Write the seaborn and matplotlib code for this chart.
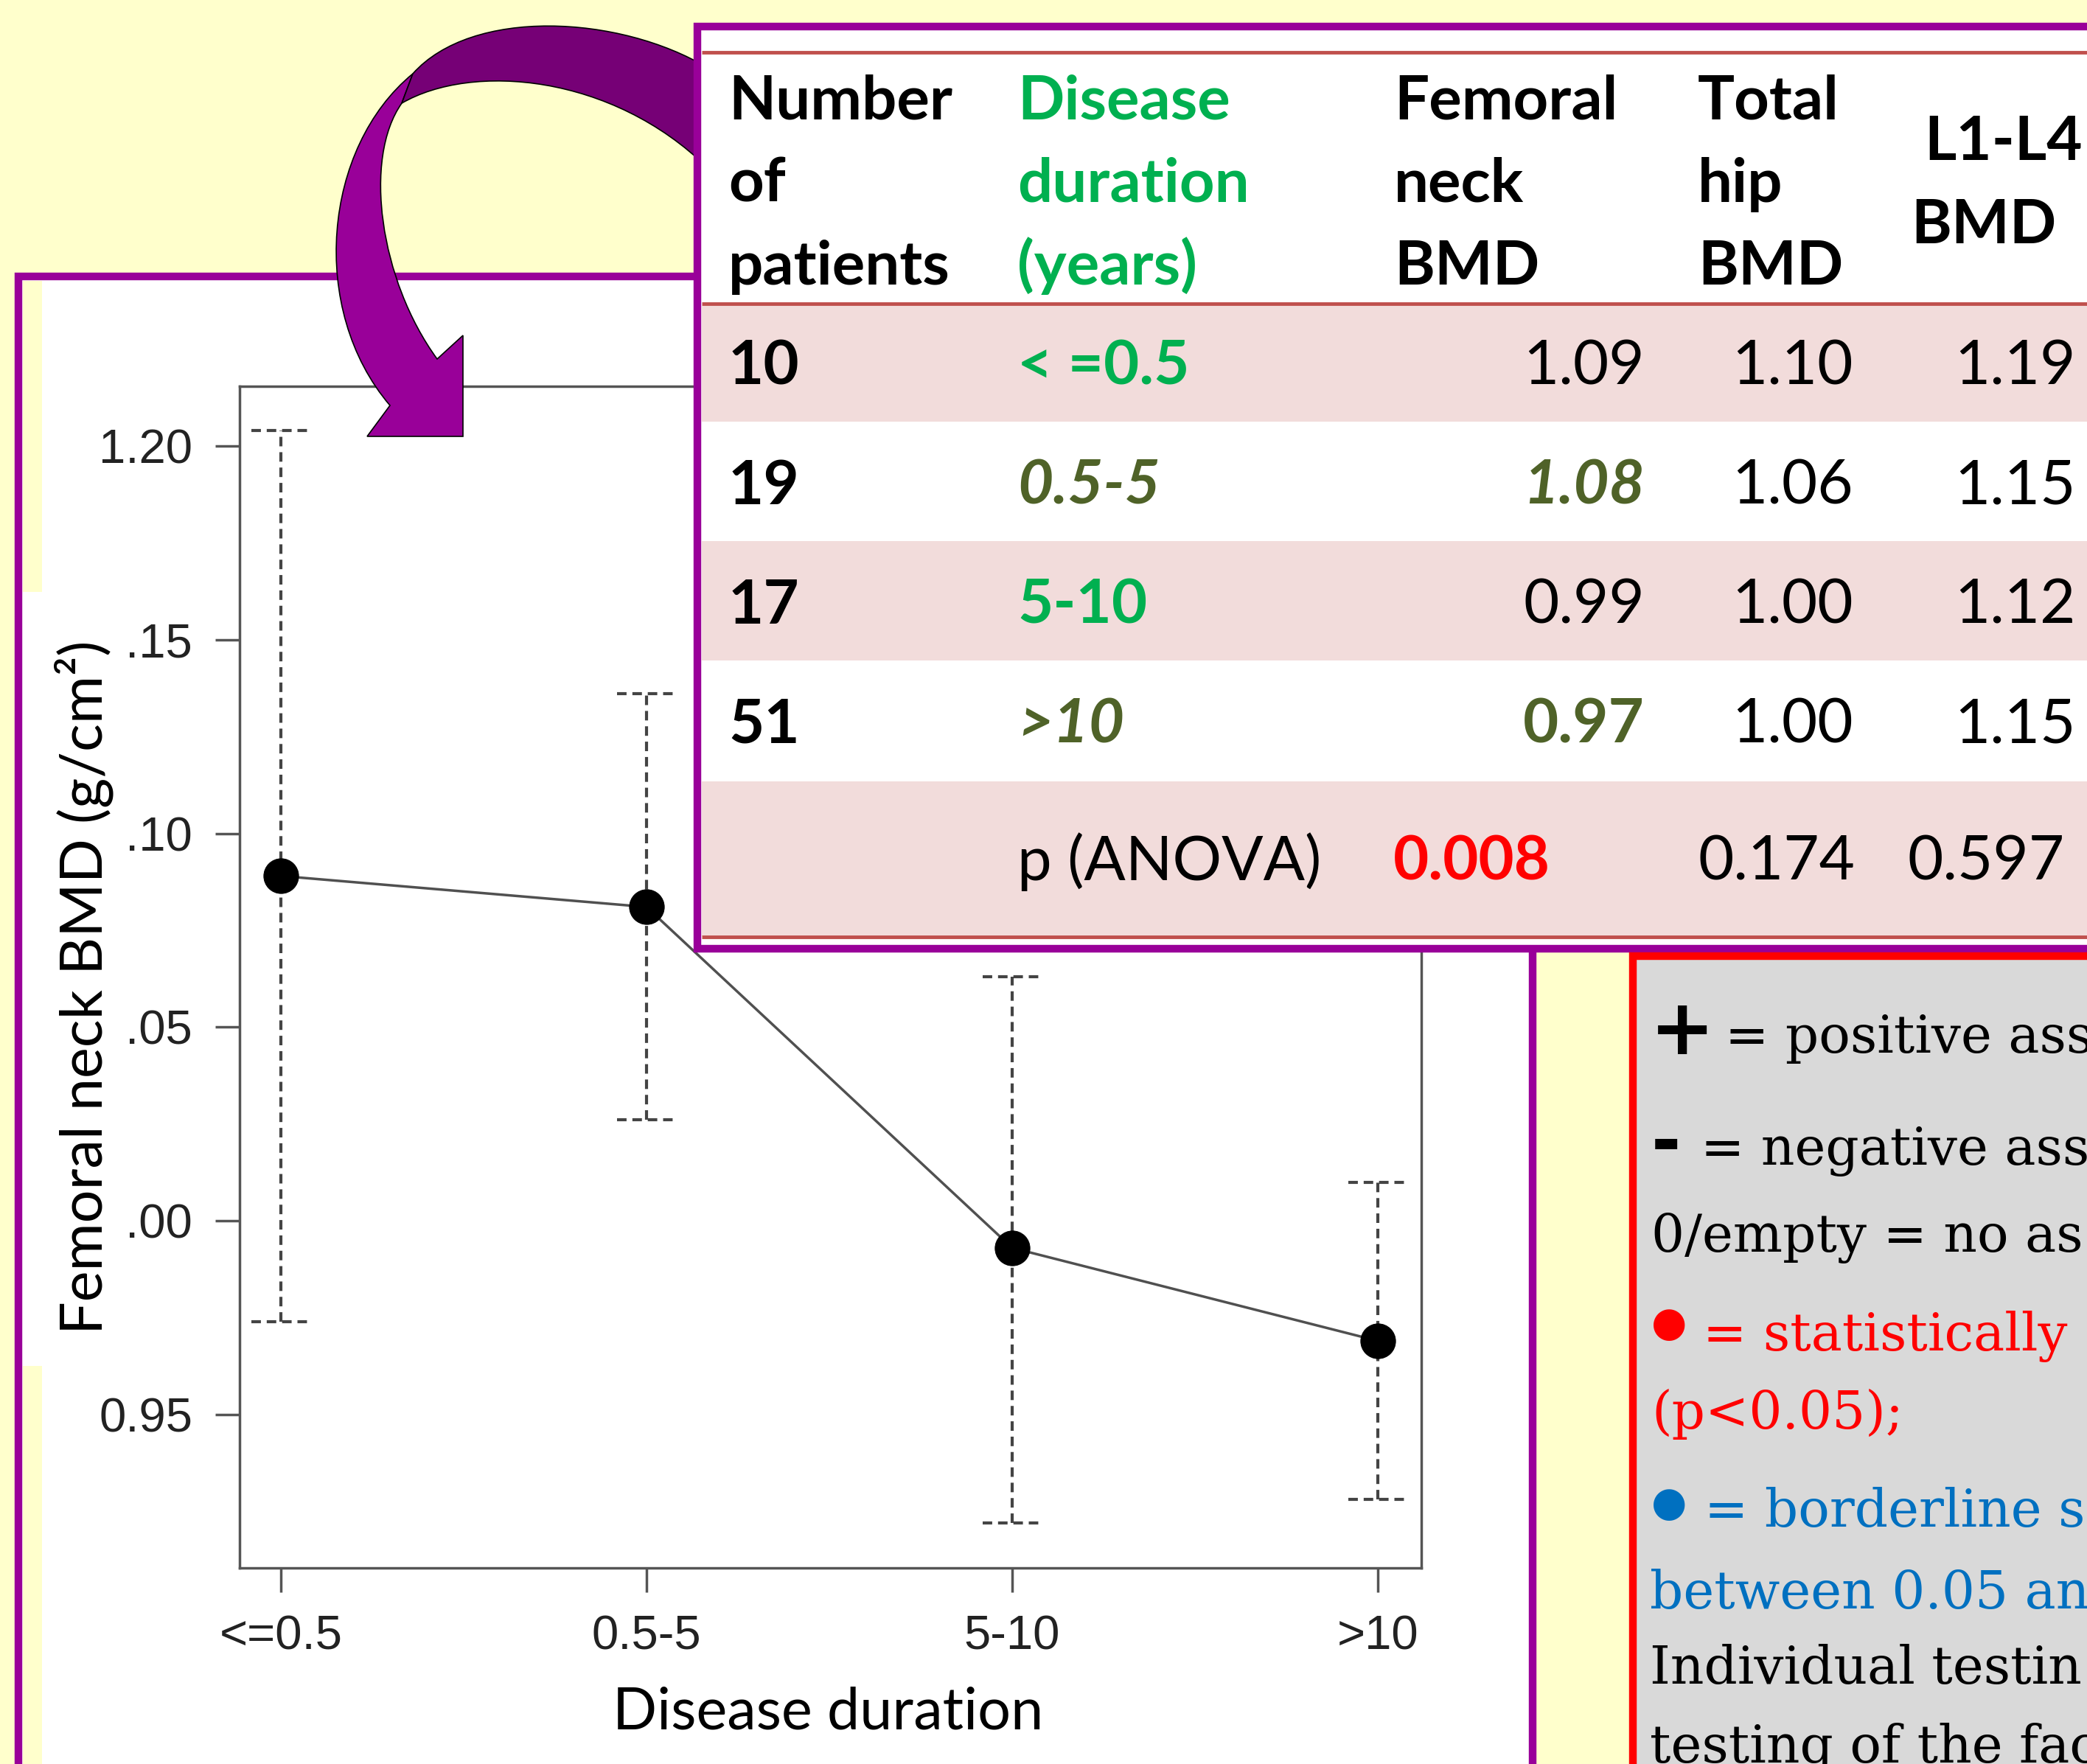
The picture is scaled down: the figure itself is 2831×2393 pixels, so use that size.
import numpy as np
import matplotlib
matplotlib.use("Agg")
import matplotlib.pyplot as plt
import seaborn as sns
from matplotlib.patches import Rectangle, PathPatch
from matplotlib.path import Path

# ---------------- data ----------------
categories = ["<=0.5", "0.5-5", "5-10", ">10"]
bmd_mean = [1.089, 1.081, 0.993, 0.969]
ci_low = [0.974, 1.026, 0.922, 0.928]
ci_high = [1.204, 1.136, 1.063, 1.010]
y_ticks = [0.95, 1.00, 1.05, 1.10, 1.15, 1.20]
y_ticklabels = ["0.95", ".00", ".05", ".10", ".15", "1.20"]

table_n = ["10", "19", "17", "51"]
table_duration = ["< =0.5", "0.5-5", "5-10", ">10"]
table_femoral = ["1.09", "1.08", "0.99", "0.97"]
table_hip = ["1.10", "1.06", "1.00", "1.00"]
table_l1l4 = ["1.19", "1.15", "1.12", "1.15"]
p_anova = ["0.008", "0.174", "0.597"]

legend_lines = ["= positive asso", "= negative asso", "0/empty = no as",
                "= statistically s", "(p<0.05);", "= borderline si",
                "between 0.05 an", "Individual testin", "testing of the fac"]

# ---------------- style ----------------
sns.set_style("white")
plt.rcParams["font.family"] = ["Lato", "DejaVu Sans"]

YELLOW = "#FFFFCC"
PURPLE = "#990099"
DARKPURPLE = "#760076"
PINK = "#F2DCDB"
REDLINE = "#C0504D"
GREEN = "#00B050"
OLIVE = "#4F6228"

W, H = 2831, 2393
fig = plt.figure(figsize=(W / 100, H / 100), dpi=100)
fig.patch.set_facecolor(YELLOW)

# background layer (pixel coordinates, y down)
bg = fig.add_axes([0, 0, 1, 1], zorder=0)
bg.set_xlim(0, W)
bg.set_ylim(H, 0)
bg.axis("off")
bg.add_patch(Rectangle((25, 375), 2079 - 25, 2600, fc="white", ec=PURPLE, lw=7.5))
bg.add_patch(Rectangle((31, 381), 26, 803 - 381, fc=YELLOW, ec="none"))
bg.add_patch(Rectangle((31, 1853), 26, 700, fc=YELLOW, ec="none"))

# ---------------- main plot ----------------
ax = fig.add_axes([325 / W, 1 - 2127 / H, 1603 / W, 1603 / H], zorder=1)
ax.set_facecolor("white")
xpos = np.arange(len(categories))
cap = 0.081
dash = (0, (3.1, 1.9))
ax.vlines(xpos, ci_low, ci_high, colors="#444444", linestyles=dash, lw=3, zorder=2)
ax.hlines(ci_high, xpos - cap, xpos + cap, colors="#444444", linestyles=dash, lw=3, zorder=2)
ax.hlines(ci_low, xpos - cap, xpos + cap, colors="#444444", linestyles=dash, lw=3, zorder=2)
sns.lineplot(x=categories, y=bmd_mean, ax=ax, color="#505050", lw=2.5, marker="o",
             markersize=34, markerfacecolor="black", markeredgecolor="black", zorder=3)

ax.set_xlim(-0.113, 3.119)
ax.set_ylim(0.9104, 1.2154)
ax.set_xticks(xpos)
ax.set_xticklabels(categories)
ax.set_yticks(y_ticks)
ax.set_yticklabels(y_ticklabels)
for lab in ax.get_xticklabels() + ax.get_yticklabels():
    lab.set_fontfamily("Liberation Sans")
    lab.set_fontsize(47)
    lab.set_color("#222222")
ax.tick_params(axis="both", direction="out", length=24, width=2.5, color="#555555",
               bottom=True, left=True)
ax.tick_params(axis="y", pad=22)
ax.tick_params(axis="x", pad=22)
for s in ax.spines.values():
    s.set_color("#555555")
    s.set_linewidth(2.5)

ax.set_ylabel("Femoral neck BMD (g/cm²)", fontsize=57, color="black", ha="center", va="center")
ax.yaxis.set_label_coords((114 - 325) / 1603, (2127 - 1339) / 1603)
ax.set_xlabel("Disease duration", fontsize=57, color="black", va="center")
ax.xaxis.set_label_coords((1123 - 325) / 1603, (2127 - 2324) / 1603)

# ---------------- foreground layer ----------------
fg = fig.add_axes([0, 0, 1, 1], zorder=2)
fg.set_xlim(0, W)
fg.set_ylim(H, 0)
fg.axis("off")
fg.patch.set_alpha(0)

# curved arrow: light lower part then dark upper arc
light = Path([(560, 100), (438, 200), (418, 420), (529, 550),
              (498, 592), (628, 592), (628, 455), (593, 487),
              (515, 380), (492, 215), (545, 140), (560, 100)],
             [Path.MOVETO, Path.CURVE4, Path.CURVE4, Path.CURVE4,
              Path.LINETO, Path.LINETO, Path.LINETO, Path.LINETO,
              Path.CURVE4, Path.CURVE4, Path.CURVE4, Path.CLOSEPOLY])
fg.add_patch(PathPatch(light, fc=PURPLE, ec="black", lw=1.2))
dark = Path([(960, 92), (840, 20), (640, 10), (560, 100),
             (545, 140), (640, 85), (830, 100), (960, 228), (960, 92)],
            [Path.MOVETO, Path.CURVE4, Path.CURVE4, Path.CURVE4,
             Path.LINETO, Path.CURVE4, Path.CURVE4, Path.CURVE4, Path.CLOSEPOLY])
fg.add_patch(PathPatch(dark, fc=DARKPURPLE, ec="black", lw=1.2))

# table panel
fg.add_patch(Rectangle((946, 36), 2200, 1251, fc="white", ec=PURPLE, lw=7.5))
for (y0, h) in [(415, 157), (734, 162), (1060, 210)]:
    fg.add_patch(Rectangle((952, y0), 2000, h, fc=PINK, ec="none"))
for yl in [71, 412, 1271]:
    fg.plot([952, W], [yl, yl], color=REDLINE, lw=3.5, solid_capstyle="butt")

TS = 60
hdr = dict(fontsize=TS, fontweight="bold", va="baseline", ha="left")
for i, line in enumerate(["Number", "of", "patients"]):
    fg.text(988, 162 + 112 * i, line, color="black", **hdr)
for i, line in enumerate(["Disease", "duration", "(years)"]):
    fg.text(1380, 162 + 112 * i, line, color=GREEN, **hdr)
for i, line in enumerate(["Femoral", "neck", "BMD"]):
    fg.text(1891, 162 + 112 * i, line, color="black", **hdr)
for i, line in enumerate(["Total", "hip", "BMD"]):
    fg.text(2303, 162 + 112 * i, line, color="black", **hdr)
fg.text(2610, 217, "L1-L4", color="black", **hdr)
fg.text(2592, 330, "BMD", color="black", **hdr)

row_base = [522, 684, 846, 1007]
dur_style = [(GREEN, "normal"), (OLIVE, "italic"), (GREEN, "normal"), (OLIVE, "italic")]
fem_style = [("black", "normal", "normal"), (OLIVE, "bold", "italic"),
             ("black", "normal", "normal"), (OLIVE, "bold", "normal")]
for i, yb in enumerate(row_base):
    fg.text(988, yb, table_n[i], fontsize=TS, fontweight="bold", color="black", va="baseline")
    c, st = dur_style[i]
    fg.text(1380, yb, table_duration[i], fontsize=TS, fontweight="bold", style=st, color=c, va="baseline")
    c, wt, st = fem_style[i]
    fg.text(2231, yb, table_femoral[i], fontsize=TS, fontweight=wt, style=st, color=c,
            va="baseline", ha="right")
    fg.text(2514, yb, table_hip[i], fontsize=TS, color="black", va="baseline", ha="right")
    fg.text(2816, yb, table_l1l4[i], fontsize=TS, color="black", va="baseline", ha="right", clip_on=True)
fg.text(1380, 1194, "p (ANOVA)", fontsize=TS, color="black", va="baseline")
fg.text(1890, 1194, p_anova[0], fontsize=TS, fontweight="bold", color="#FF0000", va="baseline")
fg.text(2303, 1194, p_anova[1], fontsize=TS, color="black", va="baseline")
fg.text(2587, 1194, p_anova[2], fontsize=TS, color="black", va="baseline")

# legend panel
fg.add_patch(Rectangle((2215, 1297), 900, 1300, fc="#D9D9D9", ec="#FF0000", lw=7.5))
LS = 51
serif = ["DejaVu Serif"]
BLUE = "#0070C0"
fg.text(2238, 1430, "+", fontsize=76, fontweight="bold", family=["DejaVu Sans"], color="black", va="baseline")
fg.text(2340, 1428, legend_lines[0], fontsize=LS, family=serif, color="black", va="baseline", clip_on=True)
fg.text(2240, 1580, "-", fontsize=70, fontweight="bold", family=["DejaVu Sans"], color="black", va="baseline")
fg.text(2307, 1580, legend_lines[1], fontsize=LS, family=serif, color="black", va="baseline", clip_on=True)
fg.text(2240, 1698, legend_lines[2], fontsize=LS, family=serif, color="black", va="baseline", clip_on=True)
fg.text(2240, 1797, "●", fontsize=40, family=["DejaVu Sans"], color="#FF0000", va="center")
fg.text(2310, 1832, legend_lines[3], fontsize=LS, family=serif, color="#FF0000", va="baseline", clip_on=True)
fg.text(2240, 1938, legend_lines[4], fontsize=LS, family=serif, color="#FF0000", va="baseline", clip_on=True)
fg.text(2240, 2041, "●", fontsize=40, family=["DejaVu Sans"], color=BLUE, va="center")
fg.text(2312, 2071, legend_lines[5], fontsize=LS, family=serif, color=BLUE, va="baseline", clip_on=True)
fg.text(2238, 2182, legend_lines[6], fontsize=LS, family=serif, color=BLUE, va="baseline", clip_on=True)
fg.text(2238, 2284, legend_lines[7], fontsize=LS, family=serif, color="black", va="baseline", clip_on=True)
fg.text(2238, 2391, legend_lines[8], fontsize=LS, family=serif, color="black", va="baseline", clip_on=True)

fig.savefig("out.png", dpi=100, facecolor=fig.get_facecolor())
